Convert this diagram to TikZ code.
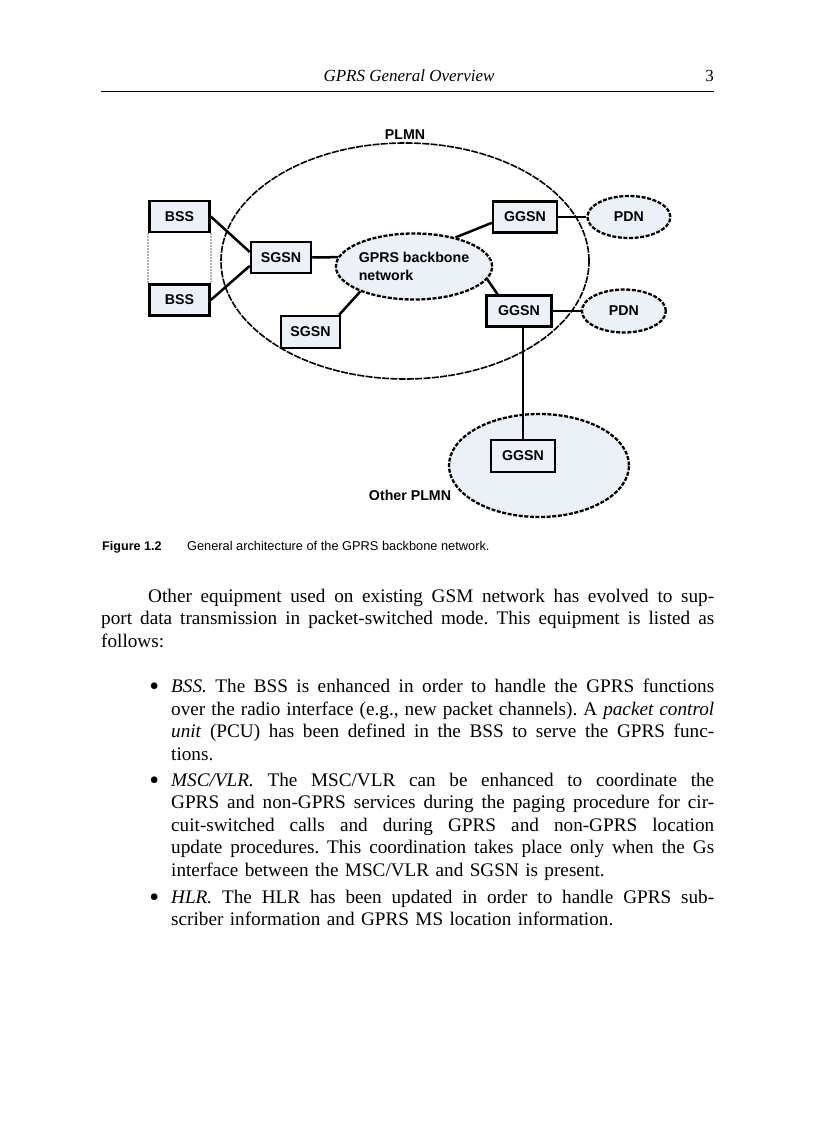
\documentclass[tikz,border=0pt]{standalone}
\usepackage{fontspec}
\setmainfont{Liberation Serif}
\newfontfamily\figfont{Liberation Sans}
\usetikzlibrary{calc,positioning,shapes.geometric}
\definecolor{netfill}{RGB}{236,240,247}
\newcommand{\fullline}[2]{\makebox[#1][s]{\spaceskip=0pt\xspaceskip=0pt\relax#2}}
\newcommand{\itemdot}{\llap{\raisebox{-3pt}{\fontsize{28}{28}\selectfont\textbullet}\hspace{12pt}}}

\begin{document}
\begin{tikzpicture}[
  x=1pt, y=-1pt,
  netbox/.style={draw, line width=2.5pt, fill=netfill, inner sep=0pt, minimum width=60pt, minimum height=31pt, font=\figfont\bfseries\fontsize{14.2}{16}\selectfont},
  netcloud/.style={ellipse, draw, line width=2.3pt, dash pattern=on 4pt off 1.6pt, fill=netfill, inner sep=0pt, font=\figfont\bfseries\fontsize{14.2}{18.5}\selectfont},
  plmnring/.style={ellipse, draw, line width=1.6pt, dash pattern=on 7pt off 1.3pt, inner sep=0pt},
  netlabel/.style={font=\figfont\bfseries\fontsize{14.2}{16}\selectfont, inner sep=2pt},
  link/.style={line width=2.5pt},
  bssgap/.style={densely dotted, line width=2pt, gray!60},
  bodytext/.style={anchor=base west, inner sep=0pt, align=left, font=\fontsize{19.2}{22.5}\selectfont\frenchspacing}
]
\fill[white] (0,0) rectangle (816,1123);
\useasboundingbox (0,0) rectangle (816,1123);

% running head
\node[anchor=base, font=\itshape\fontsize{17}{20}\selectfont, inner sep=0pt] (runhead) at (409,82) {GPRS General Overview};
\node[anchor=base east, font=\fontsize{17}{20}\selectfont, inner sep=0pt] (folio) at (714,82) {3};
\draw[line width=1.4pt] (101,91.5) -- (714,91.5);

% networks
\node[plmnring, minimum width=368pt, minimum height=236pt] (plmn) at (405,261) {};
\node[netlabel, above=0pt of plmn] (plmnlbl) {PLMN};
\node[netcloud, minimum width=180pt, minimum height=103pt] (other) at (539,465.5) {};
\node[netlabel] (otherlbl) at (410,495) {Other PLMN};

\node[netbox] (bssA) at (179.5,216.5) {BSS};
\node[netbox, below=50pt of bssA] (bssB) {BSS};
\node[netbox] (sgsnA) at (281,257.5) {SGSN};
\node[netbox, minimum width=59pt, minimum height=32pt] (sgsnB) at (310.5,332) {SGSN};
\node[netcloud, minimum width=153pt, minimum height=66pt, align=left] (core) at (414,266.5) {GPRS backbone\\network};
\node[netbox, minimum width=64pt] (ggsnA) at (525,217) {GGSN};
\node[netcloud, minimum width=83pt, minimum height=42pt, right=28pt of ggsnA] (pdnA) {PDN};
\node[netbox, minimum width=65pt] (ggsnB) at (519,311) {GGSN};
\node[netcloud, minimum width=84pt, minimum height=43pt, right=28pt of ggsnB] (pdnB) {PDN};
\node[netbox, minimum width=64pt, minimum height=32pt] (ggsnC) at (523,456) {GGSN};

\draw[bssgap] (bssA.south west) -- (bssB.north west);
\draw[bssgap] (bssA.south east) -- (bssB.north east);
\draw[link] (bssA.east) -- (sgsnA.170);
\draw[link] (bssB.east) -- (sgsnA.195);
\draw[link] (sgsnA.east) -- (core.173);
\draw[link] (core.35) -- (ggsnA.190);
\draw[link] (core.-10) -- (ggsnB.142);
\draw[link] (core.205) -- (sgsnB.31);
\draw[link] (ggsnA.east) -- (pdnA.west);
\draw[link] (ggsnB.east) -- (pdnB.west);
\draw[link] (ggsnB.south -| ggsnC.north) -- (ggsnC.north);

% caption
\node[anchor=base west, inner sep=0pt, font=\figfont\bfseries\fontsize{12.6}{15}\selectfont] (capnum) at (102,550) {Figure 1.2};
\node[base right=25pt of capnum, inner sep=0pt, font=\figfont\fontsize{12.8}{15}\selectfont] (captext) {General architecture of the GPRS backbone network.};

% body text
\node[bodytext, text width=613pt] (intro) at (101,602) {%
\hspace*{47pt}\fullline{566pt}{Other equipment used on existing GSM network has evolved to sup-}\\
\fullline{613pt}{port data transmission in packet-switched mode. This equipment is listed as}\\
follows:};

\node[bodytext, text width=543pt] (itemBSS) at (171,692.5) {%
\itemdot\fullline{543pt}{\textit{BSS.} The BSS is enhanced in order to handle the GPRS functions}\\
\fullline{543pt}{over the radio interface (e.g., new packet channels). A \textit{packet control}}\\
\fullline{543pt}{\textit{unit} (PCU) has been defined in the BSS to serve the GPRS func-}\\
tions.};

\node[bodytext, text width=543pt] (itemMSC) at (171,786) {%
\itemdot\fullline{543pt}{\textit{MSC/VLR.} The MSC/VLR can be enhanced to coordinate the}\\
\fullline{543pt}{GPRS and non-GPRS services during the paging procedure for cir-}\\
\fullline{543pt}{cuit-switched calls and during GPRS and non-GPRS location}\\
\fullline{543pt}{update procedures. This coordination takes place only when the Gs}\\
interface between the MSC/VLR and SGSN is present.};

\node[bodytext, text width=543pt] (itemHLR) at (171,903) {%
\itemdot\fullline{543pt}{\textit{HLR.} The HLR has been updated in order to handle GPRS sub-}\\
scriber information and GPRS MS location information.};
\end{tikzpicture}
\end{document}
